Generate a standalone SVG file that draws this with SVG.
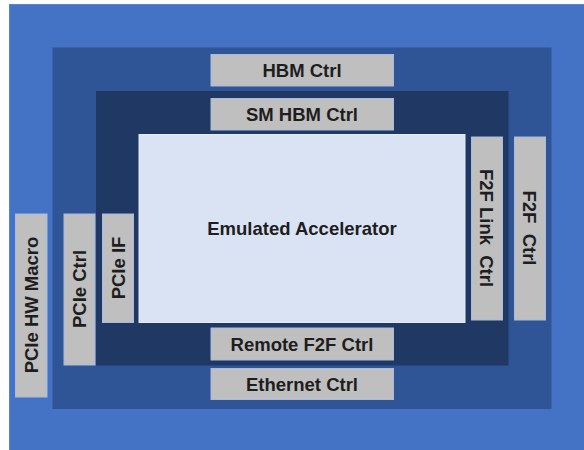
<svg xmlns="http://www.w3.org/2000/svg" width="584" height="450" viewBox="0 0 584 450">
  <style>
    .box { fill: #BFBFBF; stroke: #A9BCDD; stroke-width: 1; }
    .lbl { font-family: "Liberation Sans", Arial, sans-serif; font-weight: bold; font-size: 18.5px; fill: #1E1E1E; text-anchor: middle; white-space: pre; }
  </style>
  <rect x="0" y="0" width="584" height="450" fill="#FFFFFF"/>
  <g id="fpga">
    <rect x="9.5" y="4.5" width="575" height="446" fill="#4472C4" stroke="#5B84CC" stroke-width="1"/>
  </g>
  <g id="shell">
    <rect x="52.5" y="47.5" width="499" height="361.5" fill="#2F5597"/>
  </g>
  <g id="sm">
    <rect x="96" y="91" width="412.5" height="274.5" fill="#1F3864"/>
  </g>
  <g id="emulated-accelerator">
    <rect x="139" y="134.5" width="326" height="188" fill="#DAE3F3" stroke="#E6ECF7" stroke-width="1"/>
    <text class="lbl" x="302" y="235">Emulated Accelerator</text>
  </g>
  <g id="hbm-ctrl">
    <rect class="box" x="211" y="54.5" width="182.5" height="31.5"/>
    <text class="lbl" x="302" y="77">HBM Ctrl</text>
  </g>
  <g id="sm-hbm-ctrl">
    <rect class="box" x="211" y="98.5" width="182.5" height="31.5"/>
    <text class="lbl" x="302" y="121">SM HBM Ctrl</text>
  </g>
  <g id="remote-f2f-ctrl">
    <rect class="box" x="211" y="328" width="182.5" height="32"/>
    <text class="lbl" x="302" y="350.5">Remote F2F Ctrl</text>
  </g>
  <g id="ethernet-ctrl">
    <rect class="box" x="211" y="368.5" width="182.5" height="31"/>
    <text class="lbl" x="302" y="390.5">Ethernet Ctrl</text>
  </g>
  <g id="f2f-link-ctrl">
    <rect class="box" x="471.5" y="137" width="31" height="183"/>
    <text class="lbl" xml:space="preserve" transform="translate(479.5,228) rotate(90)">F2F Link  Ctrl</text>
  </g>
  <g id="f2f-ctrl">
    <rect class="box" x="514.5" y="137" width="31" height="183"/>
    <text class="lbl" xml:space="preserve" transform="translate(522.5,228) rotate(90)">F2F  Ctrl</text>
  </g>
  <g id="pcie-if">
    <rect class="box" x="102.5" y="214" width="31" height="108.5"/>
    <text class="lbl" transform="translate(124.5,268) rotate(-90)">PCIe IF</text>
  </g>
  <g id="pcie-ctrl">
    <rect class="box" x="64" y="214" width="31" height="151"/>
    <text class="lbl" transform="translate(86,289) rotate(-90)">PCIe Ctrl</text>
  </g>
  <g id="pcie-hw-macro">
    <rect class="box" x="15.5" y="214" width="31.5" height="183"/>
    <text class="lbl" transform="translate(37.8,305) rotate(-90)">PCIe HW Macro</text>
  </g>
  <g id="connectors"></g>
</svg>
